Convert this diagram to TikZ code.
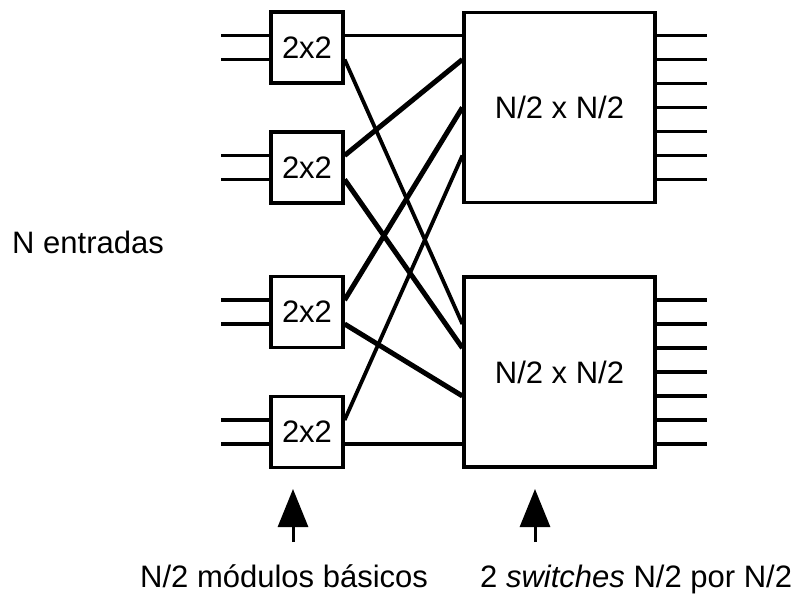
\documentclass[tikz,border=0pt]{standalone}
\usepackage{fontspec}
\setmainfont{Liberation Sans}
\usetikzlibrary{arrows.meta,calc}
\begin{document}
\begin{tikzpicture}[x=1pt,y=-1pt,
  txt/.style={font=\fontsize{31}{37}\selectfont},
  sbox/.style={draw,line width=3.2pt,minimum width=72pt,minimum height=71pt,inner sep=0pt,txt},
  bbox/.style={draw,line width=3.2pt,minimum width=191pt,minimum height=190pt,inner sep=0pt,txt},
  wire/.style={line width=3.2pt},
  thinwire/.style={line width=3.8pt},
  heavy/.style={line width=5pt},
  lbl/.style={anchor=base west,inner sep=0pt,txt},
  pointer/.style={line width=3pt,-{Triangle[length=38pt,width=30pt]}}
]
\useasboundingbox (0,0) rectangle (803,594);
% 2x2 modules
\node[sbox] (s1) at (307,47.5) {2x2};
\node[sbox] (s2) at (307,167.5) {2x2};
\node[sbox] (s3) at (307,312) {2x2};
\node[sbox] (s4) at (307,432) {2x2};
% N/2 x N/2 switches
\node[bbox] (B1) at (559.5,107.5) {N/2 x N/2};
\node[bbox] (B2) at (559.5,372) {N/2 x N/2};
% inputs
\foreach \s in {s1,s2,s3,s4}{
  \draw[wire] ($(\s.west)+(0,-12)$) -- ++(-48,0);
  \draw[wire] ($(\s.west)+(0,12)$) -- ++(-48,0);
}
% outputs
\foreach \k in {-3,...,3}{
  \draw[wire] ($(B1.east)+(0,24*\k)$) -- ++(50,0);
  \draw[wire] ($(B2.east)+(0,24*\k)$) -- ++(50,0);
}
% shuffle connections
\draw[wire]     ($(s1.east)+(0,-12)$) -- ($(B1.west)+(0,-72)$);
\draw[thinwire] ($(s1.east)+(0,12)$)  -- ($(B2.west)+(0,-48)$);
\draw[heavy]    ($(s2.east)+(0,-12)$) -- ($(B1.west)+(0,-48)$);
\draw[heavy]    ($(s2.east)+(0,12)$)  -- ($(B2.west)+(0,-24)$);
\draw[heavy]    ($(s3.east)+(0,-12)$) -- ($(B1.west)+(0,0)$);
\draw[heavy]    ($(s3.east)+(0,12)$)  -- ($(B2.west)+(0,24)$);
\draw[thinwire] ($(s4.east)+(0,-12)$) -- ($(B1.west)+(0,48)$);
\draw[wire]     ($(s4.east)+(0,12)$)  -- ($(B2.west)+(0,72)$);
% labels
\node[lbl] (lin) at (12,253) {N entradas};
\node[lbl] (lmod) at (140,587) {N/2 módulos básicos};
\node[lbl] (lsw) at (480,587) {2 \textit{switches} N/2 por N/2};
% pointers
\coordinate (p1s) at (293,542);
\coordinate (p1e) at (293,489);
\coordinate (p2s) at (535,542);
\coordinate (p2e) at (535,489);
\draw[pointer] (p1s) -- (p1e);
\draw[pointer] (p2s) -- (p2e);
\end{tikzpicture}
\end{document}
